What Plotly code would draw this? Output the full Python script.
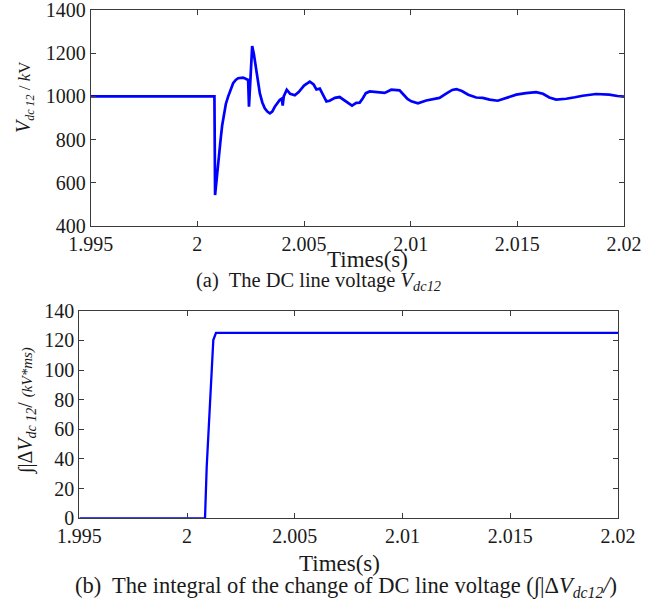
import plotly.graph_objects as go

# ---- data ----
t_top = [1.995, 2.00080, 2.00083, 2.00090, 2.000974, 2.001087, 2.001162, 2.001241, 2.001335,
         2.001442, 2.00156, 2.001677, 2.00180, 2.001911, 2.002145, 2.00227, 2.00238, 2.00242,
         2.00248, 2.00257, 2.00265, 2.00274, 2.00283, 2.00293, 2.003045, 2.00316, 2.00328,
         2.00340, 2.00351, 2.00363, 2.00386, 2.00396, 2.00400, 2.00405, 2.00419,
         2.00435, 2.00457, 2.00475, 2.00500, 2.00527, 2.00545, 2.00558, 2.00574, 2.00590,
         2.00605, 2.00620, 2.00645, 2.00667, 2.00690, 2.00725, 2.00745, 2.00761, 2.00775,
         2.00790, 2.00808, 2.00840, 2.00878, 2.00909, 2.00948, 2.00965, 2.00985, 2.01003,
         2.01034, 2.01073, 2.01100, 2.01135, 2.01170, 2.01195, 2.01214, 2.01240, 2.01270,
         2.01307, 2.01338, 2.01370, 2.01408, 2.01450, 2.01495, 2.01540, 2.01588, 2.01620,
         2.01650, 2.01682, 2.01729, 2.01770, 2.01806, 2.01869, 2.01900, 2.01931, 2.01970, 2.02]
v_top = [1000, 1000, 543, 620, 690, 798, 865, 922, 965,
         999, 1035, 1061, 1076, 1084, 1087, 1081, 1076, 952,
         1080, 1233, 1195, 1137, 1070, 1014, 972, 945, 930,
         922, 930, 952, 983, 990, 957, 1000, 1031,
         1012, 1005, 1020, 1050, 1068, 1055, 1032, 1036, 1005,
         977, 980, 993, 997, 982, 957, 970, 971, 990,
         1015, 1023, 1020, 1016, 1031, 1028, 1010, 988, 977,
         968, 981, 985, 993, 1015, 1030, 1034, 1025, 1008,
         995, 993, 985, 980, 995, 1008, 1015, 1020, 1012,
         995, 985, 989, 996, 1003, 1011, 1011, 1008, 1002, 999]

t_int = [1.995, 2.000834, 2.000913, 2.000987, 2.001066, 2.001145, 2.001219, 2.001344, 2.02]
v_int = [0, 0, 34.8, 57.3, 84.3, 106.7, 120.2, 125.0, 125.0]

x_ticks = [1.995, 2, 2.005, 2.01, 2.015, 2.02]
x_ticktext = ["1.995", "2", "2.005", "2.01", "2.015", "2.02"]
y_ticks_top = [400, 600, 800, 1000, 1200, 1400]
y_ticks_bot = [0, 20, 40, 60, 80, 100, 120, 140]

W, H = 653, 602
FONT = "Liberation Serif"
TXT = "#1a1a1a"
AX = "#3a3a3a"

def px(x):
    return x / W

def py(y):
    return 1 - y / H

fig = go.Figure()
fig.add_trace(go.Scatter(x=t_top, y=v_top, mode="lines",
                         line=dict(color="#0000ff", width=2.7),
                         xaxis="x", yaxis="y", showlegend=False))
fig.add_trace(go.Scatter(x=t_int, y=v_int, mode="lines",
                         line=dict(color="#0000ff", width=2.3),
                         xaxis="x2", yaxis="y2", showlegend=False))

common = dict(showline=True, linecolor=AX, linewidth=1, mirror="ticks",
              ticks="inside", ticklen=5, tickcolor=AX, showgrid=False,
              zeroline=False, automargin=False, ticklabeloverflow="allow",
              tickfont=dict(family=FONT, size=20, color=TXT))

fig.update_layout(
    width=W, height=H,
    margin=dict(l=0, r=0, t=0, b=0, autoexpand=False),
    paper_bgcolor="white", plot_bgcolor="white",
    font=dict(family=FONT, color=TXT),
    xaxis=dict(domain=[px(90.7), px(624)], range=[1.995, 2.02],
               tickvals=x_ticks, ticktext=x_ticktext, anchor="y", **common),
    yaxis=dict(domain=[py(226), py(10)], range=[400, 1400],
               tickvals=y_ticks_top, anchor="x", **common),
    xaxis2=dict(domain=[px(79.3), px(618)], range=[1.995, 2.02],
                tickvals=x_ticks, ticktext=x_ticktext, anchor="y2", **common),
    yaxis2=dict(domain=[py(518.3), py(310.7)], range=[0, 140],
                tickvals=y_ticks_bot, anchor="x2", **common),
)

ann = [
    dict(text="Times(s)", x=px(367), y=py(259), size=23),
    dict(text="(a)  The DC line voltage <i>V<sub>dc12</sub></i>", x=px(318), y=py(281), size=20.5),
    dict(text="Times(s)", x=px(339), y=py(563), size=23),
    dict(text="(b)  The integral of the change of DC line voltage (∫|Δ<i>V<sub>dc12</sub>/</i>)",
         x=px(346), y=py(587), size=22.5),
]
for a in ann:
    fig.add_annotation(text=a["text"], x=a["x"], y=a["y"], xref="paper", yref="paper",
                       showarrow=False, xanchor="center", yanchor="middle",
                       font=dict(family=FONT, size=a["size"], color=TXT))

fig.add_annotation(
    text=("<span style='font-size:20px'><i>V</i></span>"
          "<sub><span style='font-size:12px'><i>dc 12</i></span></sub>"
          "<span style='font-size:17px'> / <i>k</i>V</span>"),
    x=px(24), y=py(97), xref="paper", yref="paper", showarrow=False, textangle=-90,
    xanchor="center", yanchor="middle", font=dict(family=FONT, size=20, color=TXT))
fig.add_annotation(
    text="∫|Δ<i>V<sub>dc 12</sub></i>/ <span style='font-size:15px'><i>(kV*ms)</i></span>",
    x=px(26), y=py(411), xref="paper", yref="paper", showarrow=False,
    textangle=-90, xanchor="center", yanchor="middle",
    font=dict(family=FONT, size=20, color=TXT))

fig.write_html("out.html")
